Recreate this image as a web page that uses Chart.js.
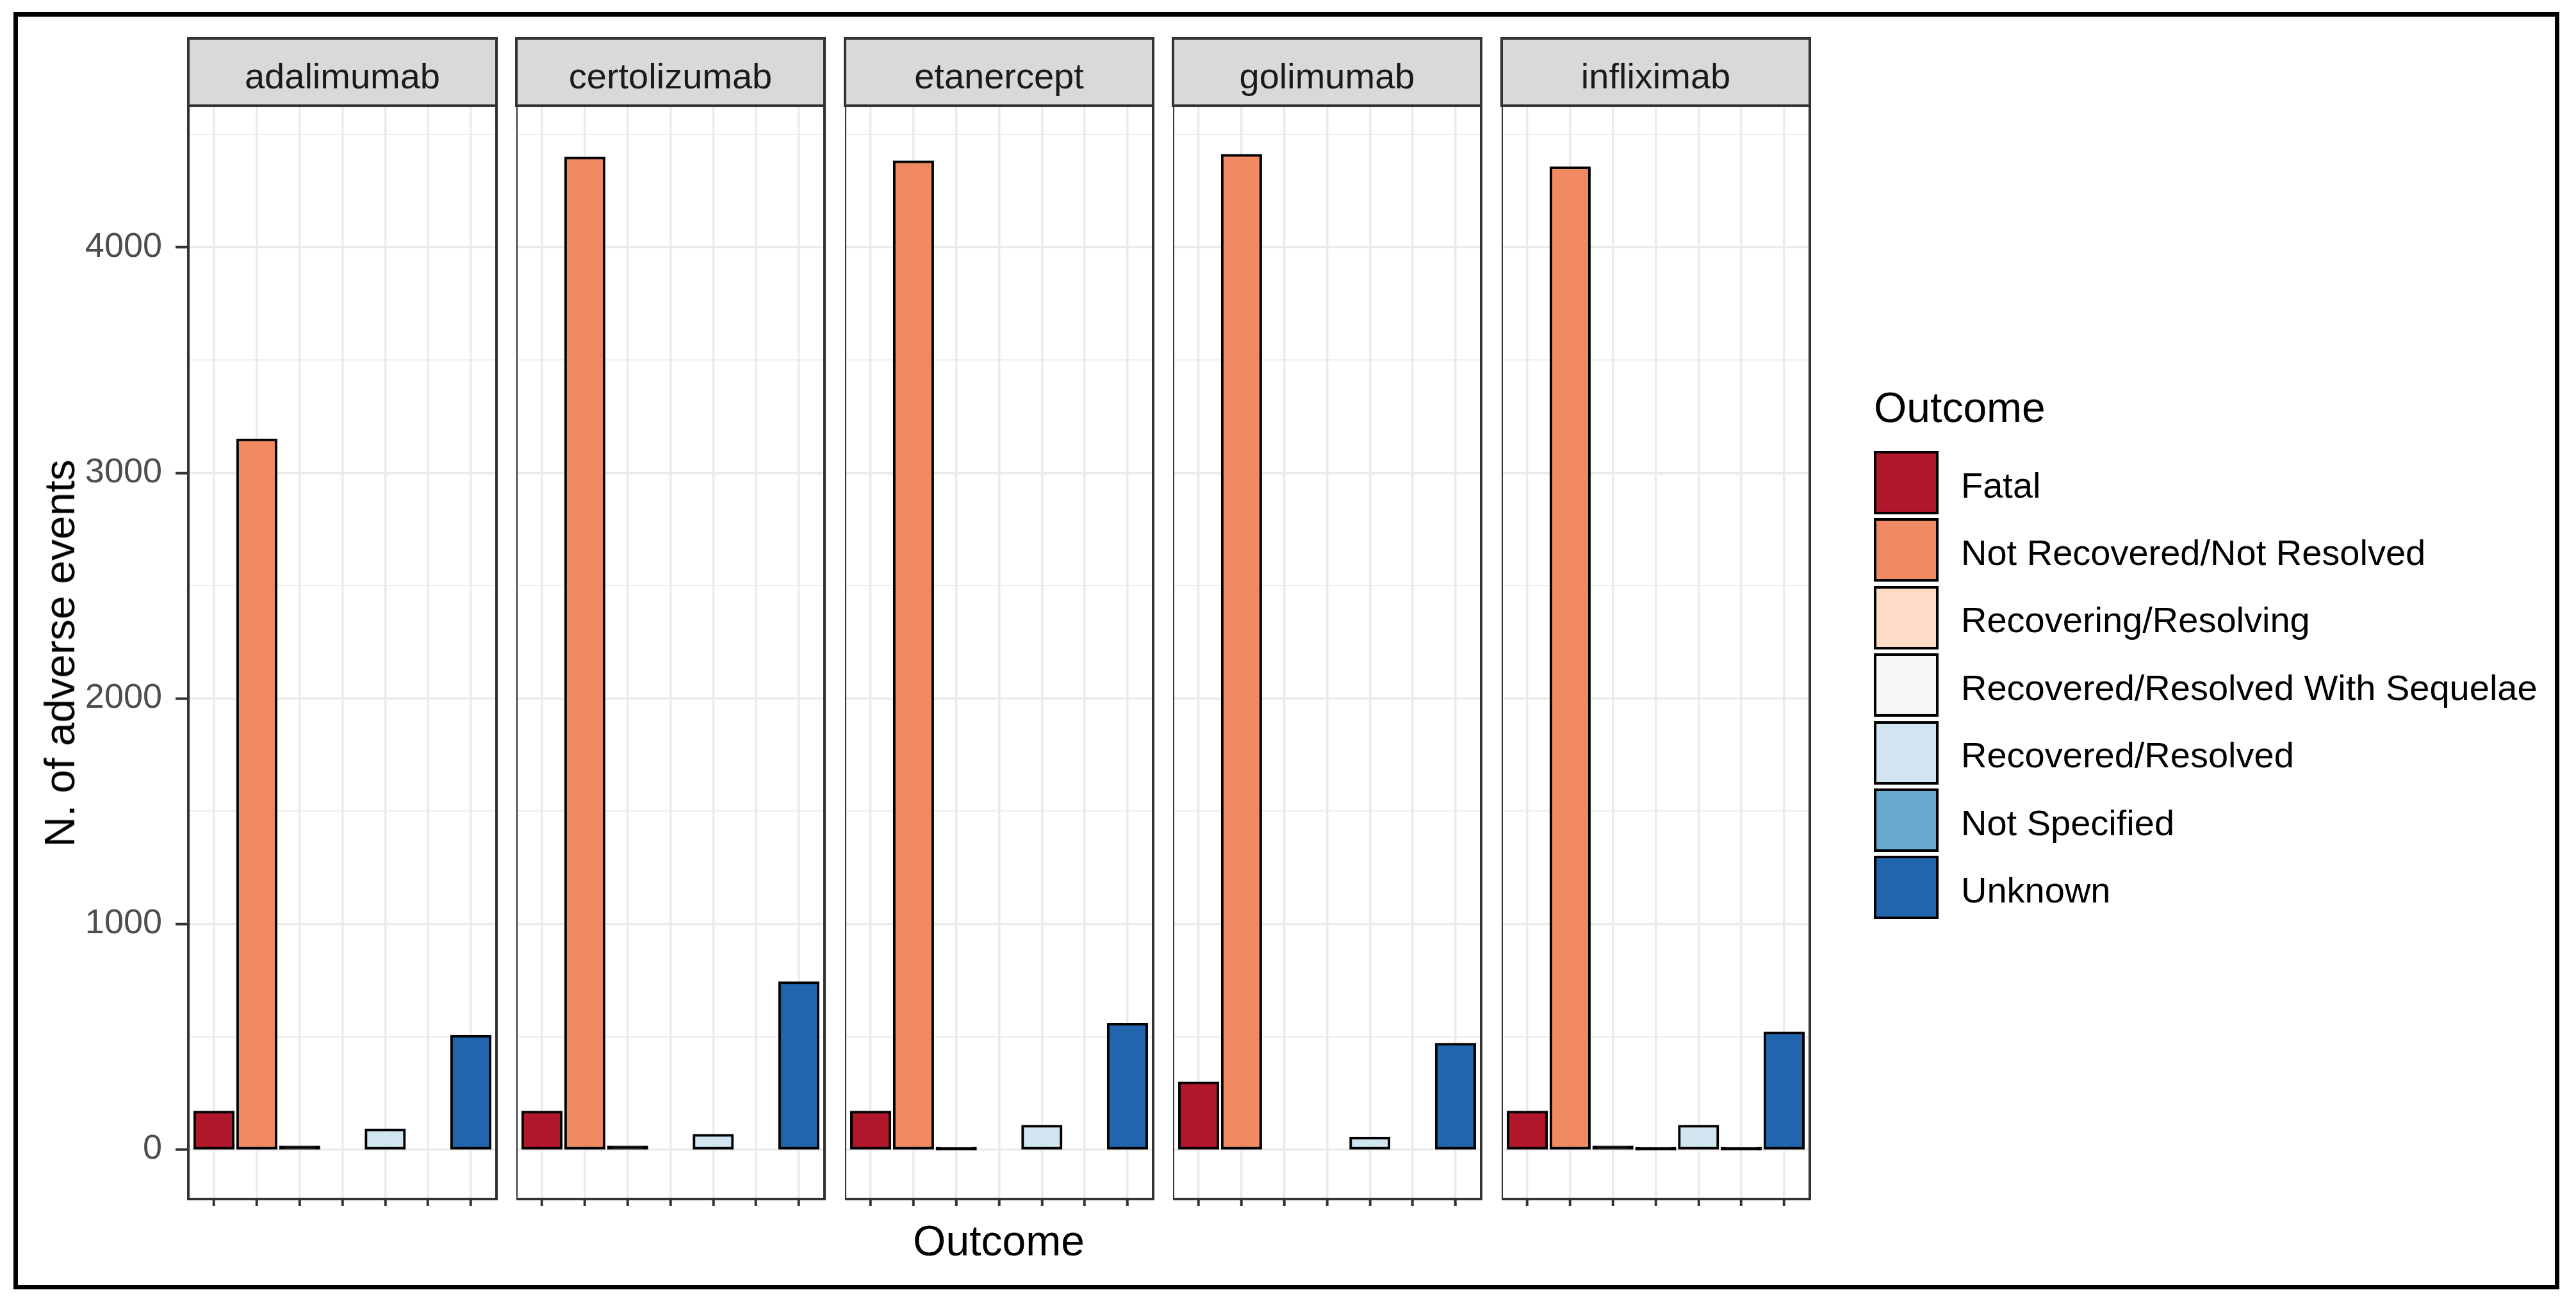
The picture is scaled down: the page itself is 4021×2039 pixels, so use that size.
<!DOCTYPE html>
<html>
<head>
<meta charset="utf-8">
<script src="https://cdn.jsdelivr.net/npm/chart.js@4.4.1/dist/chart.umd.min.js"></script>
<style>
  html, body { margin:0; padding:0; background:#fff; width:4021px; height:2039px; overflow:hidden;
    font-family:"Liberation Sans", Arial, "Noto Sans", sans-serif; }
  #frame { position:absolute; left:21px; top:19px; width:3974px; height:1994px; border:7px solid #000; box-sizing:border-box; }
  .strip { position:absolute; top:58px; height:109px; background:#D9D9D9; border:4px solid #333333; box-sizing:border-box; }
  .strip span { position:absolute; left:0; right:0; top:29px; text-align:center; font-size:56px; line-height:56px; color:#1A1A1A; white-space:nowrap; }
  .title { position:absolute; font-size:66px; line-height:66px; color:#000; white-space:nowrap; }
  .key { position:absolute; left:2925px; width:101px; height:99px; border:4px solid #000; box-sizing:border-box; }
  .lab { position:absolute; left:3061px; font-size:56px; line-height:56px; color:#000; white-space:nowrap; }
  canvas { position:absolute; }
</style>
</head>
<body>
<div id="frame"></div>
<script>
// ---- data ----
const drugs = ['adalimumab', 'certolizumab', 'etanercept', 'golimumab', 'infliximab'];
const outcomes = ['Fatal', 'Not Recovered/Not Resolved', 'Recovering/Resolving',
  'Recovered/Resolved With Sequelae', 'Recovered/Resolved', 'Not Specified', 'Unknown'];
const adalimumab   = [165, 3146, 11, null, 86,  null, 502];
const certolizumab = [165, 4397, 11, null, 62,  null, 739];
const etanercept   = [165, 4380, 1,  null, 103, null, 555];
const golimumab    = [295, 4408, null, null, 50, null, 466];
const infliximab   = [165, 4353, 11, 1,    103, 1,    517];
const yTickLabels = [0, 1000, 2000, 3000, 4000];

// ---- styles ----
const palette = ['#B2182B', '#EF8A62', '#FDDBC7', '#F7F7F7', '#D1E5F0', '#67A9CF', '#2166AC'];
const FONT = '"Liberation Sans", Arial, "Noto Sans", sans-serif';
Chart.defaults.font.family = FONT;

const series = [adalimumab, certolizumab, etanercept, golimumab, infliximab];
const allVals = series.flat().filter(v => v !== null);
const M = Math.max(...allVals);
const yMin = -0.05 * M, yMax = 1.05 * M;
const nCat = outcomes.length;
const majorStep = yTickLabels[1] - yTickLabels[0];
// major ticks plus ggplot-style minor ticks halfway between them
const yGridValues = yTickLabels.flatMap(v => [v, v + majorStep / 2]).filter(v => v <= yMax);

const lefts = [294, 806, 1319, 1831, 2344];
const PW = 481, TOP = 165, PH = 1707;

const framePlugin = {
  id: 'panelFrame',
  afterDatasetsDraw(chart) {
    const { ctx, chartArea: a } = chart;
    ctx.save();
    ctx.strokeStyle = '#333333';
    ctx.lineWidth = 4;
    ctx.strokeRect(a.left, a.top, a.right - a.left, a.bottom - a.top);
    ctx.restore();
  }
};

function isMajor(c) { return c.tick && yTickLabels.includes(c.tick.value); }

drugs.forEach((drug, i) => {
  // strip
  const st = document.createElement('div');
  st.className = 'strip';
  st.style.left = (lefts[i] - 2) + 'px';
  st.style.width = (PW + 4) + 'px';
  const sp = document.createElement('span');
  sp.textContent = drug;
  st.appendChild(sp);
  document.body.appendChild(st);

  const padL = i === 0 ? 200 : 0, padT = 60, padB = 60, axisB = 14, padR = 10;
  const W = padL + PW + padR, H = padT + PH + axisB + padB;
  const cv = document.createElement('canvas');
  cv.width = W; cv.height = H;
  cv.style.left = (lefts[i] - padL) + 'px';
  cv.style.top = (TOP - padT) + 'px';
  cv.style.width = W + 'px';
  cv.style.height = H + 'px';
  document.body.appendChild(cv);

  const vals = series[i];
  new Chart(cv, {
    type: 'bar',
    data: {
      datasets: [{
        data: vals.map((v, k) => ({ x: k, y: v })),
        backgroundColor: (c) => {
          const ys = c.chart.scales.y;
          const v = c.parsed ? c.parsed.y : null;
          if (ys && v !== null && v !== undefined && !isNaN(v)) {
            const h = Math.abs(ys.getPixelForValue(v) - ys.getPixelForValue(0));
            if (h < 8) return '#000000';
          }
          return palette[c.dataIndex];
        },
        borderColor: '#000000',
        borderWidth: 4,
        borderSkipped: false,
        inflateAmount: 2,
        barPercentage: 0.9,
        categoryPercentage: 1.0
      }]
    },
    options: {
      responsive: false,
      animation: false,
      devicePixelRatio: 1,
      events: [],
      layout: { padding: { top: padT, bottom: padB, left: 0, right: padR } },
      plugins: { legend: { display: false }, tooltip: { enabled: false }, title: { display: false } },
      scales: {
        x: {
          type: 'linear',
          min: -0.6, max: nCat - 1 + 0.6,
          offset: false,
          afterBuildTicks: (s) => { s.ticks = outcomes.map((_, k) => ({ value: k })); },
          afterFit: (s) => { s.height = axisB; },
          ticks: { display: false, autoSkip: false },
          grid: { offset: false, color: '#EBEBEB', lineWidth: 3.5, drawTicks: true, tickLength: 11,
                  tickWidth: 4, tickColor: '#333333' },
          border: { display: false }
        },
        y: {
          type: 'linear',
          min: yMin, max: yMax,
          afterBuildTicks: (s) => { s.ticks = yGridValues.map(v => ({ value: v })); },
          afterFit: (s) => { s.width = padL; },
          ticks: {
            display: i === 0, autoSkip: false, padding: 21,
            color: '#4D4D4D', font: { size: 54, family: FONT },
            callback: (v) => yTickLabels.includes(v) ? String(v) : ''
          },
          grid: {
            color: '#EBEBEB',
            lineWidth: (c) => isMajor(c) ? 3.5 : 1.75,
            drawTicks: i === 0, tickLength: 20, tickWidth: 4,
            tickColor: (c) => isMajor(c) ? '#333333' : 'rgba(0,0,0,0)'
          },
          border: { display: false }
        }
      }
    },
    plugins: [framePlugin]
  });
});

// axis titles
const yt = document.createElement('div');
yt.className = 'title';
yt.textContent = 'N. of adverse events';
yt.style.left = '93px'; yt.style.top = '1020px';
yt.style.transform = 'translate(-50%,-50%) rotate(-90deg)';
document.body.appendChild(yt);

const xt = document.createElement('div');
xt.className = 'title';
xt.textContent = 'Outcome';
xt.style.left = '1559px'; xt.style.top = '1904px';
xt.style.transform = 'translateX(-50%)';
document.body.appendChild(xt);

// legend
const lt = document.createElement('div');
lt.className = 'title';
lt.textContent = 'Outcome';
lt.style.left = '2925px'; lt.style.top = '603px';
document.body.appendChild(lt);

outcomes.forEach((o, k) => {
  const top = 704 + 105.4 * k;
  const key = document.createElement('div');
  key.className = 'key';
  key.style.top = top + 'px';
  key.style.background = palette[k];
  document.body.appendChild(key);
  const lab = document.createElement('div');
  lab.className = 'lab';
  lab.textContent = o;
  lab.style.top = (top + 49.5 + 4 - 28) + 'px';
  document.body.appendChild(lab);
});
</script>
</body>
</html>
